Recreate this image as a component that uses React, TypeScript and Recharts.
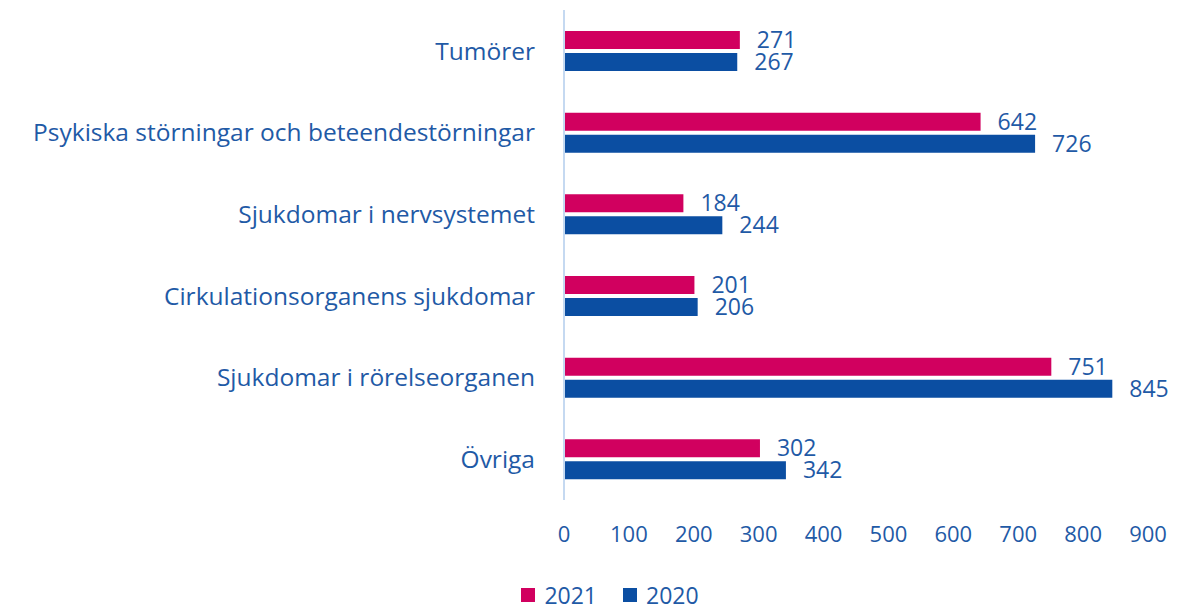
import React from 'react';
import { BarChart, Bar, XAxis, YAxis, Legend, LabelList } from 'recharts';

const PINK = '#d1005f';
const BLUE = '#0b4ea2';
const TEXT = '#1f5aa6';
const AXIS = '#c5d9f1';
const FONT = '"Open Sans", sans-serif';

const categories = [
  'Tumörer',
  'Psykiska störningar och beteendestörningar',
  'Sjukdomar i nervsystemet',
  'Cirkulationsorganens sjukdomar',
  'Sjukdomar i rörelseorganen',
  'Övriga',
];
const values2021 = [271, 642, 184, 201, 751, 302];
const values2020 = [267, 726, 244, 206, 845, 342];
const xTicks = [0, 100, 200, 300, 400, 500, 600, 700, 800, 900];

const data = categories.map((name, i) => ({
  name,
  y2021: values2021[i],
  y2020: values2020[i],
}));

const LegendRow = () => (
  <div
    style={{
      display: 'flex',
      justifyContent: 'center',
      alignItems: 'center',
      gap: 26,
      paddingTop: 12,
      fontFamily: FONT,
      fontSize: 23,
      lineHeight: '26px',
      color: TEXT,
      marginLeft: 72,
    }}
  >
    {[
      { label: '2021', color: PINK },
      { label: '2020', color: BLUE },
    ].map((item) => (
      <span key={item.label} style={{ display: 'flex', alignItems: 'center' }}>
        <span style={{ width: 14, height: 14, background: item.color, marginRight: 9 }} />
        {item.label}
      </span>
    ))}
  </div>
);

export default function App() {
  return (
    <div style={{ position: 'absolute', left: 0, top: 0, background: '#fff' }}>
      <BarChart
        width={1177}
        height={610}
        data={data}
        layout="vertical"
        margin={{ top: 10, right: 29, bottom: 0, left: 0 }}
        barSize={18}
        barGap={4}
      >
        <XAxis
          type="number"
          domain={[0, 900]}
          ticks={xTicks}
          interval={0}
          axisLine={false}
          tickLine={false}
          tickSize={0}
          tickMargin={26}
          height={70}
          tick={{ fill: TEXT, fontSize: 22, fontFamily: FONT }}
        />
        <YAxis
          type="category"
          dataKey="name"
          width={564}
          axisLine={{ stroke: AXIS, strokeWidth: 2 }}
          tickLine={false}
          tickSize={0}
          tickMargin={29}
          interval={0}
          tick={{ fill: TEXT, fontSize: 24.5, fontFamily: FONT }}
        />
        <Legend verticalAlign="bottom" height={40} content={<LegendRow />} />
        <Bar dataKey="y2021" name="2021" fill={PINK} isAnimationActive={false}>
          <LabelList
            dataKey="y2021"
            position="right"
            offset={17}
            fill={TEXT}
            fontSize={23}
            fontFamily={FONT}
          />
        </Bar>
        <Bar dataKey="y2020" name="2020" fill={BLUE} isAnimationActive={false}>
          <LabelList
            dataKey="y2020"
            position="right"
            offset={17}
            fill={TEXT}
            fontSize={23}
            fontFamily={FONT}
          />
        </Bar>
      </BarChart>
    </div>
  );
}
